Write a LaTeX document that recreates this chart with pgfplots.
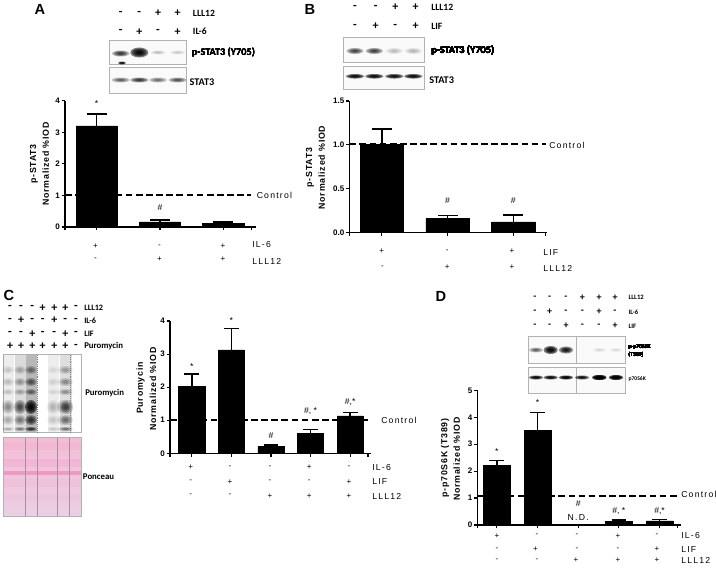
\documentclass[border=0pt]{standalone}
\usepackage{fontspec}
\usepackage{pgfplots}
\usepackage{pgfplotstable}
\pgfplotsset{compat=1.18}
\setmainfont{Liberation Sans}
\newfontfamily\lsf[LetterSpace=14]{Liberation Sans}
\newfontfamily\lsb[LetterSpace=9]{Liberation Sans}
\newfontfamily\carl{Carlito}
\definecolor{pontop}{HTML}{F4BDD6}
\definecolor{ponbot}{HTML}{EBCFE4}
\definecolor{ponband}{HTML}{F27DB5}

% value and upper error
\pgfplotstableread{
x y e
0 3.20 0.38
1 0.16 0.07
2 0.11 0.05
}\dataA
\pgfplotstableread{
x y e
0 1.00 0.18
1 0.16 0.03
2 0.12 0.075
}\dataB
\pgfplotstableread{
x y e
0 2.03 0.37
1 3.13 0.64
2 0.21 0.04
3 0.60 0.115
4 1.13 0.10
}\dataC
\pgfplotstableread{
x y e
0 2.20 0.20
1 3.50 0.68
2 0.00 0.00
3 0.14 0.04
4 0.15 0.05
}\dataD

\pgfplotsset{
  panel/.style={
    scale only axis,
    clip=false,
    axis x line=bottom,
    axis y line=left,
    axis line style={-, line width=0.9pt},
    ymin=0,
    xtick=data,
    xticklabels={},
    tick align=outside,
    major tick length=2.6pt,
    tick style={black, line width=0.9pt},
    yticklabel style={font=\fontsize{6}{7}\selectfont\bfseries, inner sep=1pt},
    /pgf/number format/assume math mode=true,
  },
  ctrl/.style={black, line width=1.5pt, dash pattern=on 5pt off 2.6pt, forget plot},
  bars/.style={ybar, bar shift=0pt, fill=black, draw=black, line width=0.4pt,
    /pgfplots/error bars/y dir=plus, /pgfplots/error bars/y explicit,
    /pgfplots/error bars/error bar style={line width=1.2pt, black},
    /pgfplots/error bars/error mark options={rotate=90, mark size=#1, line width=1.2pt, black}},
}
\tikzset{
  t/.style={inner sep=0pt, font=\fontsize{6.5}{7}\selectfont\lsf, anchor=west},
  ylab/.style={inner sep=0pt, rotate=90, font=\fontsize{6.6}{7}\selectfont\lsb\bfseries},
  sg/.style={inner sep=0pt, font=\fontsize{6}{7}\selectfont},
  hs/.style={inner sep=0pt, font=\fontsize{9}{9}\selectfont\carl\bfseries},
  hl/.style={inner sep=0pt, anchor=west, font=\fontsize{7.2}{8}\selectfont\carl\bfseries},
  wl/.style={inner sep=0pt, anchor=west, font=\fontsize{7.7}{9}\selectfont\carl\bfseries},
  big/.style={inner sep=0pt, font=\fontsize{11}{12}\selectfont\bfseries},
  ann/.style={inner sep=0pt, font=\fontsize{6.5}{7}\selectfont},
  box/.style={draw=gray!60, line width=0.6pt, fill=gray!4},
}
% soft blot band: centre x, centre y, width, height, strength
\newcommand\band[5]{%
  \pgfmathsetmacro\op{0.1*#5+0.4*#5*#5}%
  \foreach \k in {1,0.78,0.55,0.32}{%
    \fill[black, opacity=\op] (#1,#2) ellipse ({#3*0.5*\k} and {#4*0.5*\k});}}

\begin{document}
\begin{tikzpicture}[x=0.75pt, y=-0.75pt]
\useasboundingbox (0,0) rectangle (716,567);

% ---------- A
\node[big] at (40,9) {A};
\foreach \x/\s in {120.7/-,139.3/-,158/+,177.7/+} \node[hs] at (\x,13) {\s};
\foreach \x/\s in {120.7/-,139.3/+,158/-,177.7/+} \node[hs] at (\x,31.7) {\s};
\node[hl] at (192.7,13) {LLL12};
\node[hl] at (192.7,31.7) {IL-6};
\draw[box] (109.3,40.7) rectangle (186.7,64.3);
\draw[box] (109.3,67.7) rectangle (186.7,93.3);
\band{120.7}{53.5}{17}{6}{0.75}
\band{139.3}{52.5}{18}{10}{1}
\band{158}{52.5}{15}{4}{0.3}
\band{177.7}{52.5}{15}{4}{0.25}
\band{122}{63}{8}{3}{1}
\foreach \x/\a in {120.7/0.6,139.3/0.75,158/0.55,177.7/0.65} \band{\x}{80}{18}{5}{\a}
\node[wl] at (191.7,52.7) {p-STAT3 (Y705)};
\node[wl] at (189.3,81.7) {STAT3};
\node[ylab] at (34,164) {p-STAT3};
\node[ylab] at (45.7,164) {Normalized \%IOD};
\begin{axis}[panel, at={(65*0.75pt,-227*0.75pt)}, width=143pt, height=94.7pt,
  xmin=-0.5, xmax=2.51, ymax=4, ytick={0,1,2,3,4}]
  \addplot[ctrl] coordinates {(-0.5,1) (2.44,1)};
  \addplot[bars=7.5pt, bar width=31pt] table[x=x, y=y, y error=e] {\dataA};
  \node[ann] at (axis cs:0,3.92) {*};
  \node[ann] at (axis cs:1,0.62) {\#};
\end{axis}
\node[t] at (256.5,195) {Control};
\foreach \x/\s in {95.5/+,159.5/-,223/+} \node[sg] at (\x,246) {\s};
\foreach \x/\s in {95.5/-,159.5/+,223/+} \node[sg] at (\x,259.5) {\s};
\node[t] at (252,245) {IL-6};
\node[t] at (252,261) {LLL12};

% ---------- B
\node[big] at (310,9) {B};
\foreach \x/\s in {355/-,375.7/-,395.3/+,415.7/+} \node[hs] at (\x,7.3) {\s};
\foreach \x/\s in {355/-,375.7/+,395.3/-,415.7/+} \node[hs] at (\x,26) {\s};
\node[hl] at (431,7.3) {LLL12};
\node[hl] at (431,26) {LIF};
\draw[box] (343.3,37.7) rectangle (424.3,62.3);
\draw[box] (343.3,66.7) rectangle (424.3,89.3);
\foreach \x/\a in {355/0.7,374.3/0.72,394.3/0.3,413.3/0.32} \band{\x}{51}{17}{6}{\a}
\foreach \x/\a in {355/0.5,374.3/0.5,394.3/0.48,413.3/0.5} \band{\x}{76.3}{18}{4.5}{\a}
\node[wl] at (431,50) {p-STAT3 (Y705)};
\node[wl] at (429,80.3) {STAT3};
\node[ylab] at (310,167.5) {p-STAT3};
\node[ylab] at (321.7,167.5) {Normalized \%IOD};
\begin{axis}[panel, at={(349.3*0.75pt,-232.3*0.75pt)}, width=148pt, height=98.5pt,
  xmin=-0.494, xmax=2.506, ymax=1.5, ytick={0,0.5,1,1.5},
  yticklabel style={/pgf/number format/.cd, fixed, fixed zerofill, precision=1}]
  \addplot[ctrl] coordinates {(-0.494,1.01) (2.49,1.01)};
  \addplot[bars=7.5pt, bar width=32.5pt] table[x=x, y=y, y error=e] {\dataB};
  \node[ann] at (axis cs:1,0.365) {\#};
  \node[ann] at (axis cs:2,0.365) {\#};
\end{axis}
\node[t] at (549,145) {Control};
\foreach \x/\s in {381.7/+,447.3/-,512/+} \node[sg] at (\x,251) {\s};
\foreach \x/\s in {382.5/-,447.3/+,512/+} \node[sg] at (\x,267) {\s};
\node[t] at (543,253) {LIF};
\node[t] at (543,268) {LLL12};

% ---------- C
\node[big] at (9,295) {C};
\foreach \x/\s in {10/-,21/-,32.3/-,42.7/+,54.3/+,65.3/+,76/-} \node[hs] at (\x,307.7) {\s};
\foreach \x/\s in {10/-,21/+,32.3/-,42.7/-,54.3/+,65.3/-,76/-} \node[hs] at (\x,320.3) {\s};
\foreach \x/\s in {10/-,21/-,32.3/+,42.7/-,54.3/-,65.3/+,76/-} \node[hs] at (\x,333.7) {\s};
\foreach \x/\s in {10/+,21/+,32.3/+,42.7/+,54.3/+,65.3/+,76/-} \node[hs] at (\x,346) {\s};
\node[hl, font=\fontsize{6.2}{7}\selectfont\carl\bfseries] at (84,307.7) {LLL12};
\node[hl, font=\fontsize{6.2}{7}\selectfont\carl\bfseries] at (84,320.3) {IL-6};
\node[hl, font=\fontsize{6.2}{7}\selectfont\carl\bfseries] at (84,333.7) {LIF};
\node[hl, font=\fontsize{6.6}{7}\selectfont\carl\bfseries] at (84,346) {Puromycin};
\draw[box, fill=white] (3.3,354) rectangle (81.7,432.7);
\foreach \x/\l/\w in {8/0.07/11,20/0.14/11,31/0.28/11,53/0.07/11,66/0.13/12}
  \fill[black, opacity=\l] (\x-0.5*\w,355) rectangle (\x+0.5*\w,432);
\foreach \y/\r/\h in {370/0.5/8,382/0.6/8,392/0.55/6,407/1/14,420/0.75/10,429/0.75/4}
  \foreach \x/\l in {8/0.45,20/0.65,31/1,53/0.3,63/0.45,67/0.6}{
    \pgfmathsetmacro\a{\r*\l}
    \band{\x}{\y}{12}{\h}{\a}}
\draw[gray, line width=0.4pt, densely dotted] (37,355) -- (37,432);
\draw[gray, line width=0.4pt, densely dotted] (70.5,355) -- (70.5,432);
\shade[top color=pontop, bottom color=ponbot] (3,437) rectangle (81,516);
\foreach \y/\a/\h in {446/0.1/8,463/0.16/8,473/0.6/4,483/0.08/8,498/0.05/8}
  \fill[ponband, opacity=\a] (3.3,\y-0.5*\h) rectangle (80.7,\y+0.5*\h);
\foreach \x in {25.5,36.7,57.3,69} \draw[gray!70!pontop, line width=0.3pt] (\x,437) -- (\x,516);
\draw[gray!60, line width=0.6pt] (3,437) rectangle (81,516);
\node[hl, font=\fontsize{6.6}{7}\selectfont\carl\bfseries] at (85,393.3) {Puromycin};
\node[hl, font=\fontsize{6.6}{7}\selectfont\carl\bfseries] at (82.7,476.7) {Ponceau};
\node[ylab] at (140.7,388) {Puromycin};
\node[ylab] at (153,389) {Normalized \%IOD};
\begin{axis}[panel, at={(170*0.75pt,-453.3*0.75pt)}, width=150.5pt, height=99.2pt,
  xmin=-0.55, xmax=4.518, ymax=4, ytick={0,1,2,3,4}]
  \addplot[ctrl] coordinates {(-0.55,1.02) (4.45,1.02)};
  \addplot[bars=5.5pt, bar width=19.6pt] table[x=x, y=y, y error=e] {\dataC};
  \node[ann] at (axis cs:0,2.62) {*};
  \node[ann] at (axis cs:1,4.02) {*};
  \node[ann] at (axis cs:2,0.53) {\#};
  \node[ann] at (axis cs:3,1.28) {\#, *};
  \node[ann] at (axis cs:4,1.56) {\#,*};
\end{axis}
\node[t] at (381,420) {Control};
\foreach \x/\s in {190.7/+,230/-,270/-,309.3/+,349/-} \node[sg] at (\x,467.3) {\s};
\foreach \x/\s in {190.7/-,230/+,270/-,309.3/-,349/+} \node[sg] at (\x,481.7) {\s};
\foreach \x/\s in {190.7/-,230/-,270/+,309.3/+,349/+} \node[sg] at (\x,495.7) {\s};
\node[t] at (372,467.5) {IL-6};
\node[t] at (372,482) {LIF};
\node[t] at (372,496.5) {LLL12};

% ---------- D
\node[big] at (441,296) {D};
\foreach \x/\s in {535/-,549.7/-,566/-,582.3/+,599/+,615/+} \node[hs, font=\fontsize{7.5}{8}\selectfont\carl\bfseries] at (\x,297.7) {\s};
\foreach \x/\s in {535/-,549.7/+,566/-,582.3/-,599/+,615/-} \node[hs, font=\fontsize{7.5}{8}\selectfont\carl\bfseries] at (\x,311.7) {\s};
\foreach \x/\s in {535/-,549.7/-,566/+,582.3/-,599/-,615/+} \node[hs, font=\fontsize{7.5}{8}\selectfont\carl\bfseries] at (\x,326) {\s};
\node[hl, font=\fontsize{5}{6}\selectfont\carl\bfseries] at (628.3,297.7) {LLL12};
\node[hl, font=\fontsize{5}{6}\selectfont\carl\bfseries] at (628.3,312) {IL-6};
\node[hl, font=\fontsize{5}{6}\selectfont\carl\bfseries] at (628.3,326) {LIF};
\draw[box] (528.3,336.7) rectangle (625.7,363.3);
\draw[box] (528.3,367) rectangle (625.7,393.3);
\draw[gray!60, line width=0.3pt] (576,337) -- (576,363);
\draw[gray!60, line width=0.3pt] (576,367) -- (576,393);
\foreach \x/\a/\h in {536/0.6/5,550.7/1/8,566/0.9/7,599.3/0.2/4,616/0.18/4} \band{\x}{350}{14}{\h}{\a}
\foreach \x/\a/\h in {536/0.45/4,550.7/0.45/4,566/0.5/4,582/0.42/4,599.3/0.7/5,616/0.6/5} \band{\x}{377.5}{14}{\h}{\a}
\node[hl, font=\fontsize{4.2}{6}\selectfont\carl\bfseries, align=left] at (628.3,351) {p-p70S6K\\(T389)};
\node[hl, font=\fontsize{4.2}{6}\selectfont\carl\bfseries] at (628.3,379.5) {p70S6K};
\node[ylab] at (445,458) {p-p70S6K (T389)};
\node[ylab] at (456.7,459) {Normalized \%IOD};
\begin{axis}[panel, at={(477.3*0.75pt,-525*0.75pt)}, width=152.5pt, height=101pt,
  xmin=-0.479, xmax=4.518, ymax=5, ytick={0,1,2,3,4,5}]
  \addplot[ctrl] coordinates {(-0.479,1.08) (4.45,1.08)};
  \addplot[bars=5.5pt, bar width=20pt] table[x=x, y=y, y error=e] {\dataD};
  \node[ann] at (axis cs:0,2.72) {*};
  \node[ann] at (axis cs:1,4.55) {*};
  \node[ann] at (axis cs:2,0.78) {\#};
  \node[t, anchor=center] at (axis cs:2,0.26) {N.D.};
  \node[ann] at (axis cs:3,0.5) {\#, *};
  \node[ann] at (axis cs:4,0.5) {\#,*};
\end{axis}
\node[t] at (681,494) {Control};
\foreach \x/\s in {497/+,537/-,577/-,618/+,657/-} \node[sg] at (\x,535.7) {\s};
\foreach \x/\s in {497/-,535.5/+,577/-,618/-,657/+} \node[sg] at (\x,549.3) {\s};
\foreach \x/\s in {497/-,537/-,576/+,618/+,657/+} \node[sg] at (\x,560.3) {\s};
\node[t] at (681,536) {IL-6};
\node[t] at (681,549.5) {LIF};
\node[t] at (681,560.5) {LLL12};
\end{tikzpicture}
\end{document}
